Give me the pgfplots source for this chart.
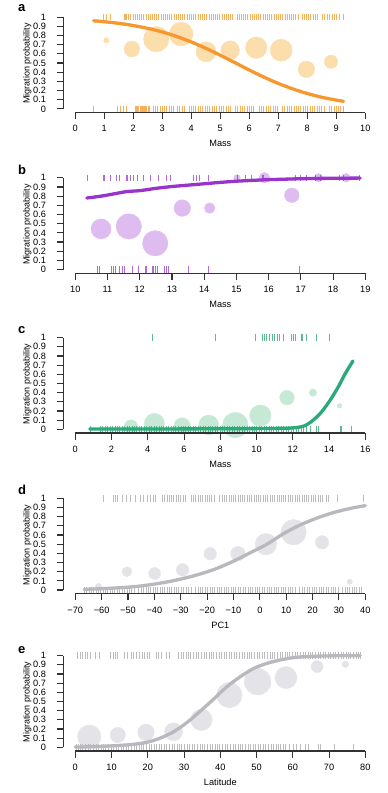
\documentclass[border=0pt]{standalone}
\usepackage{pgfplots}
\pgfplotsset{compat=1.18}
\usepackage{fontspec}
\setmainfont{Liberation Sans}
\definecolor{oline}{RGB}{246,152,46}
\definecolor{obub}{RGB}{252,221,172}
\definecolor{orug}{RGB}{244,150,40}
\definecolor{pline}{RGB}{153,51,204}
\definecolor{pbub}{RGB}{222,188,240}
\definecolor{prug}{RGB}{150,60,200}
\definecolor{gline}{RGB}{42,170,120}
\definecolor{gbub}{RGB}{198,233,214}
\definecolor{grug}{RGB}{40,160,110}
\definecolor{kline}{RGB}{184,184,190}
\definecolor{kbub}{RGB}{228,228,232}
\definecolor{krug}{RGB}{165,165,168}
\definecolor{axc}{RGB}{50,50,50}
\pgfplotsset{
  panel/.style={
    scale only axis, width=302pt, height=100.9pt,
    ymin=-0.04, ymax=1.06,
    axis x line*=bottom, axis y line*=left,
    axis line style={draw=none},
    tick align=outside, major tick length=6.5pt,
    tick style={draw=axc, line width=1.1pt},
    ytick={0,0.1,0.2,0.3,0.4,0.5,0.6,0.7,0.8,0.9,1},
    yticklabels={0,0.1,0.2,0.3,0.4,0.5,0.6,0.7,0.8,0.9,1},
    /pgf/number format/assume math mode=true,
    tick label style={font=\fontsize{9.2}{10}\selectfont},
    xticklabel style={anchor=base, yshift=-12.8pt},
    yticklabel style={anchor=east, inner sep=0pt, xshift=-10.6pt},
    ylabel={Migration probability},
    ylabel style={at={(axis description cs:-0.119,0.485)}, anchor=center, rotate=0, font=\fontsize{9}{10}\selectfont},
    xlabel style={at={(axis description cs:0.52,-0.31)}, anchor=center, font=\fontsize{9.2}{10}\selectfont},
    clip=false, clip mode=individual,
  },
  rug/.style={only marks, mark=|, mark size=3.2pt, mark options={line width=0.9pt, draw=#1, opacity=0.75}},
  bub/.style={scatter, only marks, mark=*,
    scatter/use mapped color={draw=#1, fill=#1},
    visualization depends on={\thisrow{r}\as\rad},
    scatter/@pre marker code/.append style={/tikz/mark size=\rad}},
  curve/.style={smooth, line width=3.3pt, draw=#1, line cap=round, no marks},
}
\begin{document}
\begin{tikzpicture}
\useasboundingbox (0,0) rectangle (388pt,-793pt);
% ---------------- a
\begin{axis}[panel, at={(63.3pt,-112.5pt)}, anchor=south west,
  xmin=-0.414, xmax=10, xtick={0,1,2,3,4,5,6,7,8,9,10}, xlabel={Mass}]
\addplot[bub=obub] table {
x y r
1.07 0.747 2.7
1.95 0.652 7.9
2.79 0.760 12.7
3.65 0.815 11.9
4.51 0.622 10
5.34 0.640 9.3
6.24 0.667 10.7
7.10 0.640 11
7.97 0.430 8.3
8.82 0.513 6.7
};
\addplot[rug=orug] table[row sep=\\, header=false, y expr=1] {
0.98\\1.09\\1.21\\1.69\\1.74\\1.78\\1.84\\1.91\\1.99\\2.06\\2.13\\2.22\\2.29\\2.36\\2.44\\2.51\\2.58\\2.66\\2.74\\2.81\\2.88\\2.96\\3.03\\3.11\\3.18\\3.26\\3.33\\3.41\\3.48\\3.56\\3.63\\3.71\\3.78\\3.86\\3.93\\4.01\\4.08\\4.16\\4.23\\4.31\\4.38\\4.46\\4.53\\4.61\\4.68\\4.76\\4.83\\4.91\\4.98\\5.06\\5.13\\5.21\\5.28\\5.36\\5.42\\5.58\\5.65\\5.73\\5.80\\5.88\\5.95\\6.03\\6.10\\6.18\\6.25\\6.33\\6.40\\6.48\\6.55\\6.63\\6.70\\6.78\\6.85\\6.93\\7.00\\7.08\\7.15\\7.23\\7.30\\7.38\\7.45\\7.53\\7.60\\7.68\\7.82\\7.90\\7.97\\8.05\\8.12\\8.20\\8.28\\8.36\\8.52\\8.60\\8.68\\8.76\\8.85\\8.93\\9.02\\9.10\\9.23\\
};
\addplot[rug=orug] table[row sep=\\, header=false, y expr=0] {
0.63\\1.46\\1.55\\1.66\\1.78\\2.07\\2.11\\2.15\\2.19\\2.23\\2.27\\2.31\\2.35\\2.39\\2.43\\2.47\\2.51\\2.55\\2.68\\2.76\\2.84\\2.92\\3.00\\3.08\\3.16\\3.24\\3.32\\3.40\\3.52\\3.60\\3.68\\3.76\\3.92\\4.00\\4.08\\4.16\\4.24\\4.32\\4.40\\4.48\\4.56\\4.64\\4.72\\4.80\\4.88\\4.96\\5.04\\5.12\\5.20\\5.28\\5.36\\5.52\\5.60\\5.68\\5.76\\5.84\\5.92\\6.00\\6.08\\6.16\\6.34\\6.42\\6.50\\6.58\\6.66\\6.74\\6.82\\6.90\\6.98\\7.14\\7.22\\7.30\\7.38\\7.46\\7.54\\7.62\\7.70\\7.78\\7.86\\7.94\\8.02\\8.10\\8.18\\8.26\\8.34\\8.42\\8.50\\8.58\\8.76\\8.84\\8.92\\9.00\\9.08\\9.16\\9.25\\
};
\addplot[curve=oline] coordinates {
(0.63,0.960)(1,0.950)(1.5,0.932)(2,0.908)(2.5,0.877)(3,0.838)(3.5,0.788)(4,0.729)(4.5,0.660)(5,0.584)(5.5,0.504)(6,0.423)(6.5,0.346)(7,0.277)(7.5,0.217)(8,0.167)(8.5,0.126)(9,0.095)(9.25,0.082)};
\draw[axc, line width=1.1pt] (0,-0.04) -- (10,-0.04);
\draw[axc, line width=1.1pt] (-0.414,0) -- (-0.414,1);
\end{axis}
\node[anchor=base west, inner sep=0pt, font=\bfseries\fontsize{13}{14}\selectfont] at (18pt,-11.8pt) {a};
% ---------------- b
\begin{axis}[panel, at={(63.3pt,-273.2pt)}, anchor=south west,
  xmin=9.628, xmax=19, xtick={10,11,12,13,14,15,16,17,18,19}, xlabel={Mass}]
\addplot[bub=pbub] table {
x y r
10.80 0.443 10
11.66 0.470 12.7
12.48 0.286 12.7
13.32 0.670 8.3
14.17 0.670 5.3
15.02 1.000 3.3
15.87 1.000 5.3
16.72 0.810 7.3
17.55 1.000 4.3
18.40 1.000 4.3
};
\addplot[rug=prug] table[row sep=\\, header=false, y expr=1] {
10.38\\10.86\\10.91\\11.09\\11.29\\11.37\\11.58\\11.63\\11.71\\11.81\\11.94\\12.12\\12.33\\12.59\\12.84\\12.95\\13.67\\13.76\\13.86\\14.14\\15.04\\15.28\\15.48\\15.81\\15.84\\16.83\\16.98\\17.17\\17.45\\17.62\\18.20\\18.33\\18.82\\
};
\addplot[rug=prug] table[row sep=\\, header=false, y expr=0] {
10.69\\10.76\\11.12\\11.17\\11.24\\11.38\\11.45\\11.52\\11.76\\11.97\\12.17\\12.22\\12.38\\12.43\\12.50\\12.56\\12.77\\12.82\\12.90\\13.50\\14.14\\16.95\\
};
\addplot[curve=pline] coordinates {
(10.36,0.78)(10.8,0.80)(11.2,0.825)(11.6,0.85)(12.0,0.86)(12.5,0.885)(13.0,0.905)(13.5,0.92)(14.0,0.935)(14.5,0.95)(15.0,0.963)(15.5,0.972)(16.0,0.98)(16.5,0.985)(17.0,0.99)(17.5,0.993)(18.0,0.995)(18.84,0.997)};
\draw[axc, line width=1.1pt] (10,-0.04) -- (19,-0.04);
\draw[axc, line width=1.1pt] (9.628,0) -- (9.628,1);
\end{axis}
\node[anchor=base west, inner sep=0pt, font=\bfseries\fontsize{13}{14}\selectfont] at (18pt,-174pt) {b};
% ---------------- c
\begin{axis}[panel, at={(63.3pt,-433pt)}, anchor=south west,
  xmin=-0.662, xmax=16, xtick={0,2,4,6,8,10,12,14,16}, xlabel={Mass}]
\addplot[bub=gbub] table {
x y r
3.07 0.030 6.7
4.36 0.065 10
5.89 0.036 8.3
7.36 0.047 10
8.83 0.047 12.7
10.21 0.150 10.7
11.68 0.345 7.3
13.11 0.400 3.7
14.58 0.256 2.3
};
\addplot[rug=grug] table[row sep=\\, header=false, y expr=1] {
4.23\\7.72\\9.93\\10.34\\10.45\\10.57\\10.72\\10.85\\10.98\\11.13\\11.27\\11.46\\11.95\\12.05\\12.14\\12.45\\12.55\\12.74\\13.30\\14.03\\
};
\addplot[rug=grug] table[row sep=\\, header=false, y expr=0] {
0.85\\1.38\\1.50\\1.65\\1.77\\1.92\\2.05\\2.19\\2.31\\2.46\\2.59\\2.73\\2.85\\3.00\\3.13\\3.27\\3.39\\3.54\\3.67\\3.81\\3.93\\4.08\\4.21\\4.35\\4.47\\4.62\\4.75\\4.89\\5.01\\5.16\\5.29\\5.43\\5.55\\5.70\\5.83\\5.97\\6.09\\6.24\\6.37\\6.51\\6.63\\6.78\\6.91\\7.05\\7.17\\7.32\\7.45\\7.59\\7.71\\7.86\\7.99\\8.13\\8.25\\8.40\\8.53\\8.67\\8.79\\8.94\\9.07\\9.21\\9.33\\9.48\\9.61\\9.75\\9.87\\10.02\\10.15\\10.29\\10.41\\10.56\\10.69\\10.83\\10.95\\11.10\\11.23\\11.37\\11.49\\11.64\\11.77\\11.91\\12.03\\12.18\\12.32\\12.50\\12.59\\12.78\\12.97\\13.33\\13.42\\14.62\\14.71\\15.26\\
};
\addplot[curve=gline] coordinates {
(0.8,0.003)(4,0.004)(8,0.006)(10,0.008)(11,0.010)(11.8,0.013)(12.2,0.020)(12.6,0.035)(13.0,0.080)(13.5,0.170)(14.0,0.300)(14.5,0.460)(14.9,0.610)(15.32,0.745)};
\draw[axc, line width=1.1pt] (0,-0.04) -- (16,-0.04);
\draw[axc, line width=1.1pt] (-0.662,0) -- (-0.662,1);
\end{axis}
\node[anchor=base west, inner sep=0pt, font=\bfseries\fontsize{13}{14}\selectfont] at (18pt,-333.3pt) {c};
% ---------------- d
\begin{axis}[panel, at={(63.3pt,-593.7pt)}, anchor=south west,
  xmin=-74.55, xmax=40, xtick={-70,-60,-50,-40,-30,-20,-10,0,10,20,30,40},
  xticklabels={−70,−60,−50,−40,−30,−20,−10,0,10,20,30,40}, xlabel={PC1}]
\addplot[bub=kbub] table {
x y r
-61.2 0.036 3.3
-50.4 0.200 5
-39.9 0.180 6
-29.3 0.220 6.3
-18.8 0.396 6.3
-8.3 0.396 7.3
2.3 0.500 10.7
12.8 0.630 12.7
23.6 0.520 6.7
34.1 0.090 2.7
};
\addplot[rug=krug] table[row sep=\\, header=false, y expr=1] {
-59.5\\-55.5\\-54.6\\-53.9\\-52.3\\-50.7\\-49.1\\-47.2\\-45.3\\-44.1\\-42.8\\-41.6\\-40.3\\-39.7\\-36.9\\-36.0\\-35.2\\-34.3\\-33.4\\-32.6\\-31.7\\-30.8\\-30.0\\-29.1\\-28.2\\-26.0\\-25.1\\-24.3\\-23.4\\-22.5\\-21.7\\-20.8\\-19.9\\-19.1\\-18.2\\-17.3\\-15.2\\-14.3\\-13.5\\-12.6\\-11.7\\-10.9\\-10.0\\-9.1\\-8.3\\-7.4\\-6.5\\-5.7\\-4.8\\-3.9\\-3.1\\-2.2\\-1.3\\-0.5\\0.4\\1.3\\2.1\\3.0\\3.9\\4.7\\5.6\\6.5\\7.3\\8.2\\9.1\\9.9\\10.8\\11.7\\12.5\\13.4\\14.3\\15.1\\16.0\\16.9\\17.7\\18.6\\19.5\\20.3\\21.2\\22.1\\23.0\\23.6\\25.2\\26.1\\29.3\\39.4\\
};
\addplot[rug=krug] table[row sep=\\, header=false, y expr=0] {
-66.6\\-65.8\\-64.8\\-63.9\\-63.1\\-62.1\\-61.2\\-60.4\\-59.4\\-58.5\\-57.7\\-56.7\\-55.8\\-55.0\\-54.0\\-53.1\\-52.3\\-51.3\\-50.4\\-49.6\\-48.6\\-47.7\\-45.9\\-45.0\\-44.2\\-43.2\\-42.3\\-41.5\\-40.5\\-39.6\\-38.8\\-37.8\\-36.9\\-36.1\\-35.1\\-34.2\\-33.4\\-32.4\\-31.5\\-30.7\\-29.7\\-28.8\\-28.0\\-27.0\\-26.1\\-24.3\\-23.4\\-22.6\\-21.6\\-20.7\\-19.9\\-18.9\\-18.0\\-17.2\\-16.2\\-15.3\\-14.5\\-13.5\\-12.6\\-11.8\\-10.8\\-9.9\\-9.1\\-8.1\\-7.2\\-6.4\\-5.4\\-4.5\\-3.7\\-2.7\\-1.8\\-1.0\\0.0\\0.9\\1.7\\2.7\\3.6\\4.4\\5.4\\6.3\\7.1\\8.1\\9.0\\9.8\\10.8\\11.7\\12.5\\13.5\\15.2\\16.2\\17.1\\17.9\\18.9\\19.8\\20.6\\21.6\\22.5\\23.3\\24.3\\25.2\\26.0\\27.0\\27.9\\28.7\\29.7\\31.4\\32.4\\33.3\\34.1\\35.1\\36.0\\36.8\\37.8\\38.7\\
};
\addplot[curve=kline] coordinates {
(-66.6,0.007)(-60,0.015)(-55,0.022)(-47.9,0.036)(-41.5,0.058)(-35.2,0.088)(-28.9,0.127)(-22.6,0.175)(-16.3,0.236)(-9.9,0.316)(-3.6,0.407)(2.7,0.500)(9,0.615)(15.3,0.710)(21.7,0.785)(28,0.845)(34.3,0.890)(40,0.920)};
\draw[axc, line width=1.1pt] (-70,-0.04) -- (40,-0.04);
\draw[axc, line width=1.1pt] (-74.55,0) -- (-74.55,1);
\end{axis}
\node[anchor=base west, inner sep=0pt, font=\bfseries\fontsize{13}{14}\selectfont] at (18pt,-494.2pt) {d};
% ---------------- e
\begin{axis}[panel, at={(63.3pt,-751pt)}, anchor=south west,
  xmin=-3.31, xmax=80, xtick={0,10,20,30,40,50,60,70,80}, xlabel={Latitude}]
\addplot[bub=kbub] table {
x y r
3.86 0.116 11.7
11.7 0.135 7.7
19.5 0.164 8.3
27.1 0.170 9
34.8 0.300 10.7
42.5 0.570 12.7
50.3 0.716 13.3
58.1 0.760 11
66.7 0.880 6
74.5 0.905 3.3
};
\addplot[rug=krug] table[row sep=\\, header=false, y expr=1] {
0.6\\1.4\\2.1\\2.8\\3.4\\4.1\\5.5\\6.7\\9.7\\10.4\\11.0\\11.5\\13.5\\14.3\\15.4\\16.1\\17.0\\17.7\\18.4\\19.0\\19.8\\20.5\\22.3\\23.0\\23.7\\25.1\\26.0\\28.5\\29.2\\29.8\\30.6\\31.3\\31.9\\32.7\\33.4\\34.0\\34.8\\35.5\\36.1\\36.9\\37.6\\38.2\\39.0\\39.7\\40.3\\41.1\\41.8\\42.4\\43.2\\43.9\\44.5\\45.3\\46.0\\46.6\\47.4\\48.1\\48.7\\49.5\\50.2\\50.8\\51.6\\52.3\\52.9\\53.7\\54.4\\55.0\\55.8\\56.5\\57.1\\57.9\\58.6\\59.2\\60.0\\60.7\\61.3\\62.1\\62.8\\63.4\\64.2\\64.9\\65.5\\66.3\\67.0\\67.6\\68.4\\69.1\\69.7\\70.5\\71.2\\71.8\\72.6\\73.3\\73.9\\74.7\\75.4\\76.0\\76.8\\77.5\\78.1\\78.6\\
};
\addplot[rug=krug] table[row sep=\\, header=false, y expr=0] {
0.2\\0.8\\1.5\\2.1\\2.9\\3.6\\4.2\\5.0\\5.7\\6.3\\7.1\\7.8\\8.4\\9.2\\9.9\\10.5\\11.3\\12.0\\12.6\\13.4\\14.1\\14.7\\15.5\\16.2\\16.8\\17.6\\18.3\\18.9\\19.7\\20.4\\21.0\\21.8\\22.5\\23.1\\23.9\\24.6\\25.2\\26.0\\26.7\\27.3\\28.1\\28.8\\29.4\\30.2\\30.9\\31.5\\32.3\\33.0\\33.6\\34.4\\35.1\\35.7\\36.5\\37.2\\37.8\\38.6\\39.3\\39.9\\40.7\\41.4\\42.0\\42.8\\43.5\\44.1\\44.9\\45.6\\46.2\\47.0\\47.7\\48.3\\49.1\\49.8\\50.4\\51.2\\51.9\\52.5\\53.3\\54.0\\54.6\\55.4\\56.1\\56.7\\57.5\\57.9\\59.1\\60.2\\61.1\\62.1\\63.4\\64.4\\67.1\\67.6\\71.5\\76.8\\
};
\addplot[curve=kline] coordinates {
(0,0.003)(5,0.007)(9.7,0.015)(13,0.023)(16.1,0.033)(19.8,0.055)(23.4,0.100)(27.1,0.170)(30.8,0.270)(34.5,0.396)(38.2,0.527)(41.8,0.660)(45.5,0.770)(49.2,0.860)(52.9,0.916)(56.6,0.953)(60.2,0.978)(63.9,0.990)(70,0.997)(78.6,1.000)};
\draw[axc, line width=1.1pt] (0,-0.04) -- (80,-0.04);
\draw[axc, line width=1.1pt] (-3.31,0) -- (-3.31,1);
\end{axis}
\node[anchor=base west, inner sep=0pt, font=\bfseries\fontsize{13}{14}\selectfont] at (18pt,-653.3pt) {e};
\end{tikzpicture}
\end{document}
